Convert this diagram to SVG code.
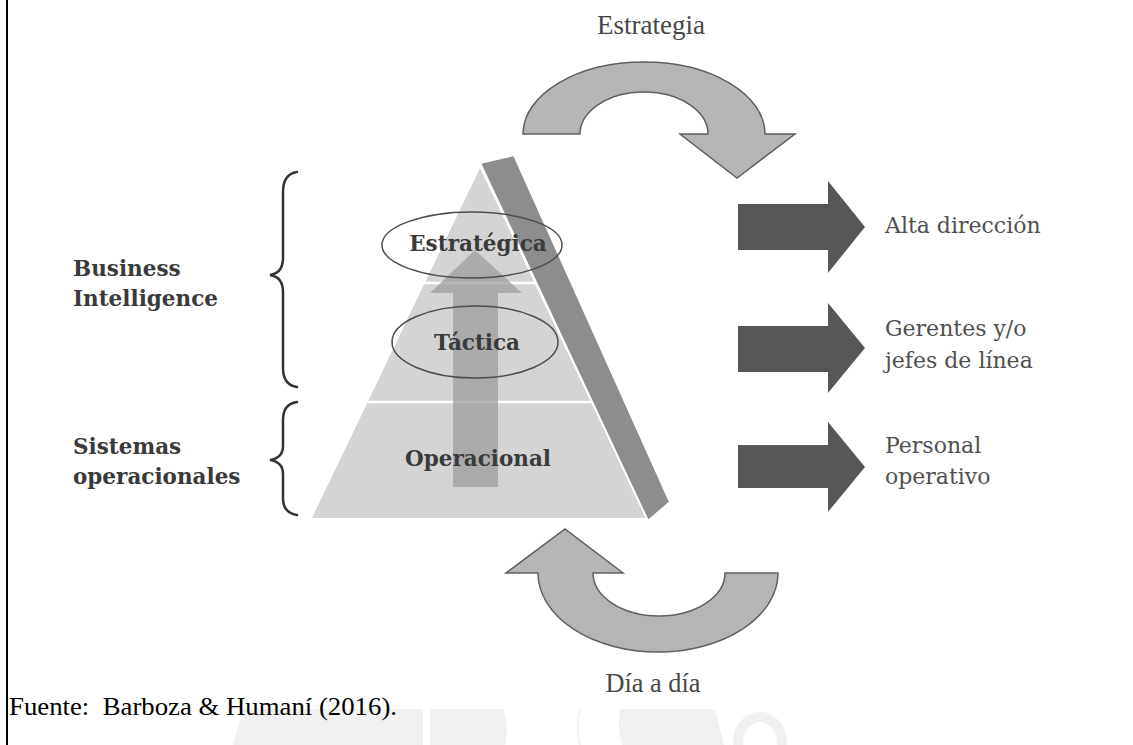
<svg xmlns="http://www.w3.org/2000/svg" width="1133" height="745" viewBox="0 0 1133 745">
<style>
.lbl{font-family:"DejaVu Serif","Liberation Serif",serif;font-size:21.5px;fill:#3a3a3a}
.b{font-weight:bold}
.rt{font-family:"DejaVu Serif","Liberation Serif",serif;font-size:22px;fill:#505050}
.cap{font-family:"Liberation Serif",serif;font-size:27px;fill:#474747}
.curve{fill:#b5b5b5;stroke:#606060;stroke-width:1.5}
.blk{fill:#575757}
.brace{fill:none;stroke:#333;stroke-width:2.5;stroke-linecap:round}
.ell{fill:none;stroke:#4d4d4d;stroke-width:1.5}
</style>
<rect width="1133" height="745" fill="#fff"/>
<line x1="7" y1="0" x2="7" y2="745" stroke="#000" stroke-width="2"/>
<g id="watermark" fill="#f1f1f1">
<polygon points="243,709 423,709 423,745 233,745"/>
<path d="M430,709 L503,709 Q510,727 505,745 L430,745 Z"/>
<path d="M580,709 Q575,727 580,745" fill="none" stroke="#f1f1f1" stroke-width="2"/>
<path d="M620,709 L715,709 L724,745 L622,745 Q617,727 620,709 Z"/>
<path d="M760,712 A27,30 0 1 1 759.9,712 Z M760,722 A17,20 0 1 0 760.1,722 Z" fill-rule="evenodd"/>
</g>
<g id="pyramid">
<polygon points="480,168 312,518 646,518" fill="#d4d4d4"/>
<line x1="300" y1="283" x2="560" y2="283" stroke="#fff" stroke-width="2.5"/>
<line x1="300" y1="402" x2="600" y2="402" stroke="#fff" stroke-width="2.5"/>
<polygon points="480,163 514,155 670,502 648,521" fill="#8d8d8d" stroke="#fff" stroke-width="2"/>
</g>
<g id="up-arrow" fill="#9a9a9a" opacity="0.7">
<rect x="453" y="292" width="45" height="195"/>
<polygon points="430,293 522,293 475,250"/>
</g>
<g id="estrategica">
<ellipse class="ell" cx="472" cy="245" rx="90" ry="33"/>
<text class="lbl b" x="478" y="251" text-anchor="middle">Estratégica</text>
</g>
<g id="tactica">
<ellipse class="ell" cx="475" cy="342" rx="83" ry="36"/>
<text class="lbl b" x="477" y="350" text-anchor="middle">Táctica</text>
</g>
<g id="operacional">
<text class="lbl b" x="478" y="466" text-anchor="middle">Operacional</text>
</g>
<g id="bi">
<path class="brace" d="M297,172 Q283,174 283,192 L283,258 Q283,273 270,275 Q283,277 283,292 L283,368 Q283,385 297,387"/>
<text class="lbl b" x="73" y="276">Business</text>
<text class="lbl b" x="73" y="306">Intelligence</text>
</g>
<g id="so">
<path class="brace" d="M297,402 Q283,404 283,420 L283,446 Q283,458 270,460 Q283,462 283,474 L283,498 Q283,513 297,515"/>
<text class="lbl b" x="73" y="454">Sistemas</text>
<text class="lbl b" x="73" y="484">operacionales</text>
</g>
<g id="connectors">
<path class="curve" d="M523,134 A121,72 0 0 1 765,134 L795,134 L737,178 L680,134 L708,134 A64,42 0 0 0 580,134 Z"/>
<path class="curve" d="M778,573 A120,79 0 0 1 538,573 L506,573 L565,529 L623,573 L593,573 A66,43 0 0 0 725,573 Z"/>
<polygon class="blk" points="738,204 828,204 828,181 865,227 828,273 828,250 738,250"/>
<polygon class="blk" points="738,326 828,326 828,303 865,348 828,393 828,372 738,372"/>
<polygon class="blk" points="738,445 828,445 828,422 865,467 828,512 828,488 738,488"/>
</g>
<g id="estrategia"><text class="cap" x="651" y="34" text-anchor="middle" textLength="108" lengthAdjust="spacingAndGlyphs">Estrategia</text></g>
<g id="dia"><text class="cap" x="653" y="692" text-anchor="middle" textLength="95" lengthAdjust="spacingAndGlyphs">Día a día</text></g>
<g id="alta"><text class="rt" x="885" y="233">Alta dirección</text></g>
<g id="gerentes"><text class="rt" x="885" y="336">Gerentes y/o</text><text class="rt" x="885" y="368">jefes de línea</text></g>
<g id="personal"><text class="rt" x="885" y="453">Personal</text><text class="rt" x="885" y="484">operativo</text></g>
<g id="fuente"><text x="9" y="715" font-family="'Liberation Serif',serif" font-size="26" fill="#000" textLength="388" lengthAdjust="spacingAndGlyphs" xml:space="preserve">Fuente:  Barboza &amp; Humaní (2016).</text></g>
</svg>
